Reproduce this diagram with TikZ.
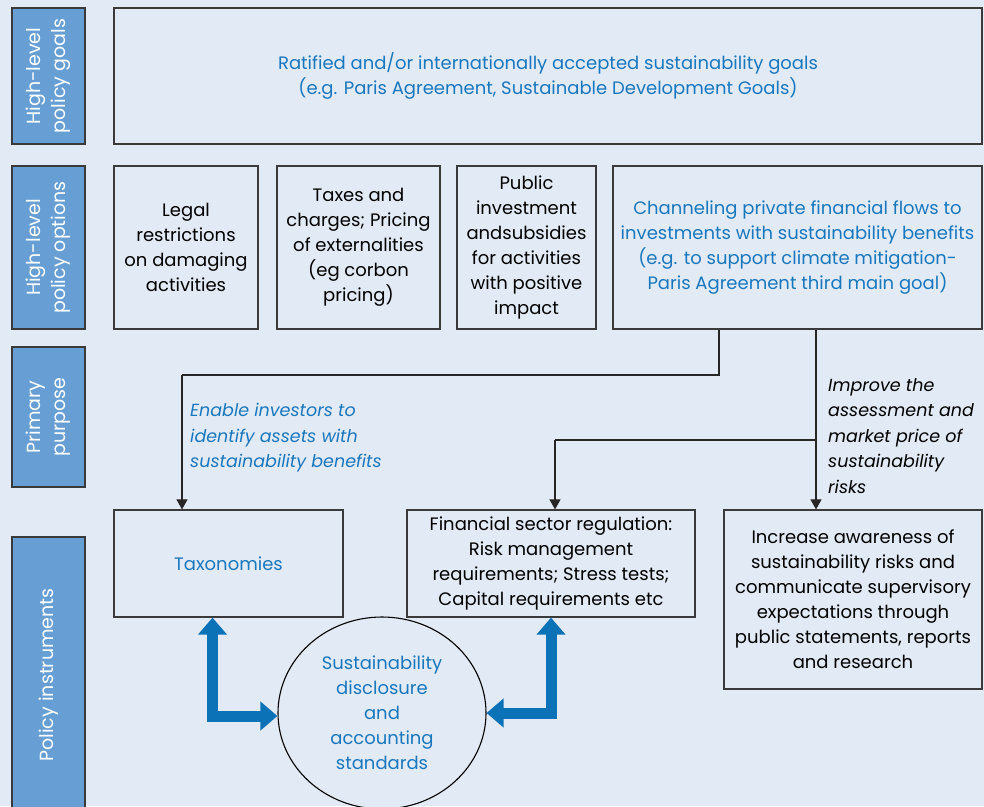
\documentclass[tikz,border=0pt]{standalone}
\usepackage{fontspec}
\setmainfont{Poppins}
\usetikzlibrary{arrows.meta,shapes.geometric}
\definecolor{bg}{HTML}{E2EAF5}
\definecolor{sidefill}{HTML}{679FD4}
\definecolor{tblue}{HTML}{1878BE}
\definecolor{abl}{HTML}{0B72B8}
\definecolor{edge}{HTML}{3A3A3A}
\begin{document}
\begin{tikzpicture}[x=1pt,y=-1pt,
  txt/.style={font=\fontsize{18}{25}\selectfont},
  box/.style={draw=edge, line width=1.2pt, fill=bg, align=center, inner sep=1pt, txt},
  sidebox/.style={draw=edge, fill=sidefill, line width=1.2pt, text=white, rotate=90, align=center, inner sep=1pt, font=\fontsize{19}{25}\selectfont},
  conn/.style={draw=black!85, line width=1.1pt},
  arr/.style={conn, -{Triangle[length=10pt,width=11pt]}},
  thick/.style={draw=abl, line width=11pt, line join=miter,
     {Triangle[length=17pt,width=28pt]}-{Triangle[length=17pt,width=28pt]}},
  lab/.style={font=\fontsize{17.5}{25.5}\selectfont\itshape, align=left, inner sep=0pt, anchor=west}]
\fill[bg] (0,0) rectangle (984,806);
\useasboundingbox (0,0) rectangle (984,806);
\begin{scope}
\clip (0,0) rectangle (984,806);
% side labels
\node[sidebox, minimum width=136pt, minimum height=73pt] (s1) at (48.5,76) {High-level\\policy goals};
\node[sidebox, minimum width=163pt, minimum height=73pt] (s2) at (48.5,247.5) {High-level\\policy options};
\node[sidebox, minimum width=140pt, minimum height=73pt] (s3) at (48.5,417) {Primary\\purpose};
\node[sidebox, minimum width=276pt, minimum height=73pt] (s4) at (48.5,675) {Policy instruments};
\end{scope}
% goals
\node[box, text=tblue, minimum width=868pt, minimum height=136pt] (goals) at (548,76)
  {Ratified and/or internationally accepted sustainability goals\\(e.g. Paris Agreement, Sustainable Development Goals)};
% options
\node[box, minimum width=144pt, minimum height=163pt] (optA) at (186,247.5)
  {Legal\\restrictions\\on damaging\\activities};
\node[box, minimum width=163pt, minimum height=163pt] (optB) at (358.5,247.5)
  {Taxes and\\charges; Pricing\\of externalities\\(eg corbon\\pricing)};
\node[box, minimum width=139pt, minimum height=163pt] (optC) at (526.5,247.5)
  {Public\\investment\\andsubsidies\\for activities\\with positive\\impact};
\node[box, text=tblue, minimum width=369pt, minimum height=163pt] (optD) at (797.5,247.5)
  {Channeling private financial flows to\\investments with sustainability benefits\\(e.g. to support climate mitigation-\\Paris Agreement third main goal)};
% instruments
\node[box, text=tblue, minimum width=229pt, minimum height=107pt] (tax) at (228.5,563.5) {Taxonomies};
\node[box, minimum width=288pt, minimum height=107pt] (fin) at (551,563.5)
  {Financial sector regulation:\\Risk management\\requirements; Stress tests;\\Capital requirements etc};
\node[box, minimum width=258pt, minimum height=179pt] (inc) at (853,599.5)
  {Increase awareness of\\sustainability risks and\\communicate supervisory\\expectations through\\public statements, reports\\and research};
\node[ellipse, draw=black, line width=1.1pt, fill=bg, text=tblue, align=center, inner sep=0pt,
  minimum width=208pt, minimum height=192pt, txt] (ell) at (382,713)
  {Sustainability\\disclosure\\and\\accounting\\standards};
% connectors
\coordinate (j1) at (719,375);
\coordinate (a1) at (182,375);
\coordinate (j2) at (816,440);
\coordinate (a2) at (555,440);
\draw[conn] (optD.south -| j1) -- (j1) -- (a1);
\draw[arr] (a1) -- (tax.north -| a1);
\draw[arr] (optD.south -| j2) -- (inc.north -| j2);
\draw[conn] (j2) -- (a2);
\draw[arr] (a2) -- (fin.north -| a2);
\node[lab, text=tblue] (labA) at (190,438) {Enable investors to\\identify assets with\\sustainability benefits};
\node[lab, text=black] (labB) at (828,436) {Improve the\\assessment and\\market price of\\sustainability\\risks};
% thick arrows
\coordinate (tl) at (212.5,716);
\draw[thick] (tax.south -| tl) -- (tl) -- (ell.west |- tl);
\coordinate (tr) at (551,713);
\draw[thick] (fin.south -| tr) -- (tr) -- (ell.east);
\end{tikzpicture}
\end{document}
